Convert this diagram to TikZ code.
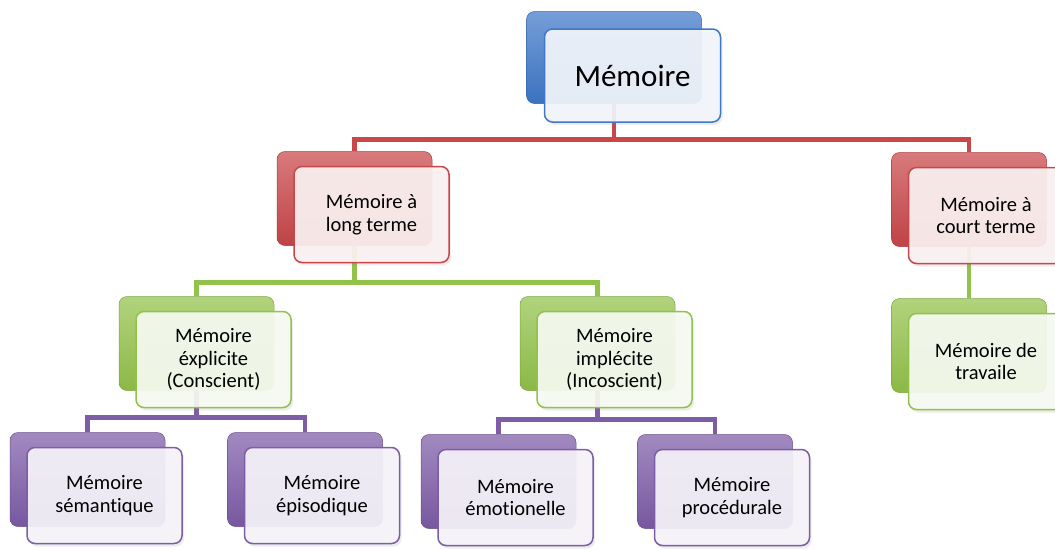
\documentclass[tikz,border=0pt]{standalone}
\usepackage{fontspec}
\setmainfont{Carlito}[Ligatures=NoCommon]
\usetikzlibrary{calc,shadows}

\definecolor{memblue}{HTML}{3F78C8}
\definecolor{memred}{HTML}{C94649}
\definecolor{memgreen}{HTML}{93C24A}
\definecolor{mempurple}{HTML}{7D5CA8}

\tikzset{
  memback/.style={rounded corners=8pt, minimum width=155pt, minimum height=94pt,
    inner sep=0pt, draw=#1!85!black, line width=0.5pt,
    top color=#1!72!white, middle color=#1, bottom color=#1!95!black},
  memface/.style={rounded corners=8pt, minimum width=155pt, minimum height=96pt,
    inner sep=2pt, draw=#1, line width=1.5pt, fill=#1!7!white, fill opacity=0.92,
    text opacity=1, align=center, font=\fontsize{20.5}{22.7}\selectfont,
    drop shadow={shadow xshift=2pt, shadow yshift=-3pt, opacity=0.15}},
  memlink/.style={draw=#1, line width=4.8pt},
}

\begin{document}
\begin{tikzpicture}[x=1pt,y=-1pt]
    \useasboundingbox (0,0) rectangle (1055,549);
    % back plates
    \node[memback=memblue, minimum width=175pt, minimum height=92pt] (rt-b) at (614,57.5) {};
    \node[memback=memred] (lt-b) at (354.5,198.5) {};
    \node[memback=memred] (ct-b) at (969,199.5) {};
    \node[memback=memgreen] (ex-b) at (196.5,343.5) {};
    \node[memback=memgreen] (im-b) at (597.5,343.5) {};
    \node[memback=memgreen] (tr-b) at (969,345.5) {};
    \node[memback=mempurple] (se-b) at (87.5,479.5) {};
    \node[memback=mempurple] (ep-b) at (305,479.5) {};
    \node[memback=mempurple] (em-b) at (498.5,481.5) {};
    \node[memback=mempurple] (pr-b) at (715,481.5) {};
    % connectors
    \draw[memlink=memred] (rt-b.south) -- ++(0,35.5) -| (lt-b.north);
    \draw[memlink=memred] (rt-b.south) -- ++(0,35.5) -| (ct-b.north);
    \draw[memlink=memgreen] (lt-b.south) -- ++(0,37) -| (ex-b.north);
    \draw[memlink=memgreen] (lt-b.south) -- ++(0,37) -| (im-b.north);
    \draw[memlink=memgreen] (ct-b.south) -- (tr-b.north);
    \draw[memlink=mempurple] (ex-b.south) -- ++(0,27) -| (se-b.north);
    \draw[memlink=mempurple] (ex-b.south) -- ++(0,27) -| (ep-b.north);
    \draw[memlink=mempurple] (im-b.south) -- ++(0,29) -| (em-b.north);
    \draw[memlink=mempurple] (im-b.south) -- ++(0,29) -| (pr-b.north);
    % front plates with the texts
    \node[memface=memblue, minimum width=176pt, minimum height=93pt,
      font=\fontsize{31}{34}\selectfont] (rt) at ($(rt-b)+(18.5,18)$) {Mémoire};
    \node[memface=memred] (lt) at ($(lt-b)+(17,16)$) {Mémoire à\\long terme};
    \node[memface=memred] (ct) at ($(ct-b)+(17,16)$) {Mémoire à\\court terme};
    \node[memface=memgreen] (ex) at ($(ex-b)+(17,16)$) {Mémoire\\éxplicite\\(Conscient)};
    \node[memface=memgreen] (im) at ($(im-b)+(17,16)$) {Mémoire\\implécite\\(Incoscient)};
    \node[memface=memgreen] (tr) at ($(tr-b)+(17,16)$) {Mémoire de\\travaile};
    \node[memface=mempurple] (se) at ($(se-b)+(17,16)$) {Mémoire\\sémantique};
    \node[memface=mempurple] (ep) at ($(ep-b)+(17,16)$) {Mémoire\\épisodique};
    \node[memface=mempurple] (em) at ($(em-b)+(17,16)$) {Mémoire\\émotionelle};
    \node[memface=mempurple] (pr) at ($(pr-b)+(17,16)$) {Mémoire\\procédurale};
\end{tikzpicture}
\end{document}
